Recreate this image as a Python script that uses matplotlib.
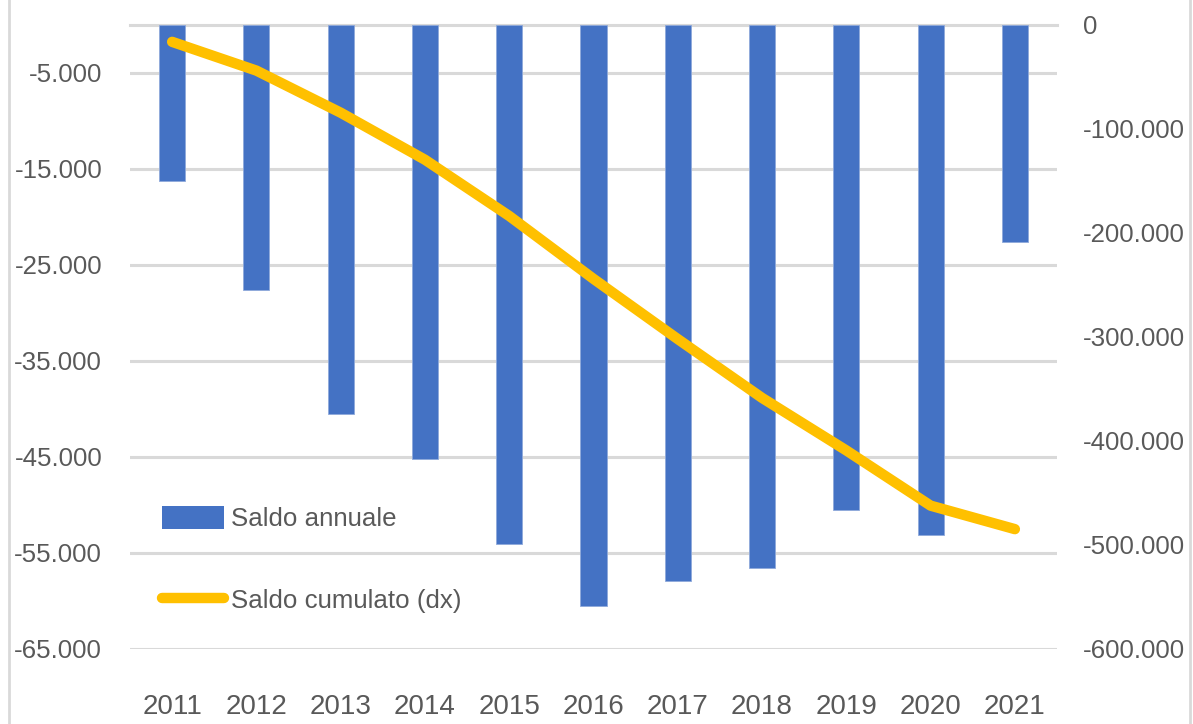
import matplotlib
matplotlib.use("Agg")
import matplotlib.pyplot as plt
from matplotlib.ticker import FuncFormatter, FixedLocator
from matplotlib.lines import Line2D
from matplotlib.patches import Patch

years = ["2011", "2012", "2013", "2014", "2015", "2016", "2017", "2018", "2019", "2020", "2021"]
saldo_annuale = [-16200, -27650, -40470, -45220, -54090, -60470, -57900, -56550, -50520, -53090, -22590]
saldo_cumulato = [-16200, -43850, -84320, -129540, -183630, -244100, -302000, -358550, -409070, -462160, -484750]
left_ticks = [-65000, -55000, -45000, -35000, -25000, -15000, -5000]
right_ticks = [-600000, -500000, -400000, -300000, -200000, -100000, 0]

plt.rcParams["font.family"] = ["Liberation Sans", "DejaVu Sans"]

TXT = "#595959"
GRID = "#D9D9D9"
FS = 18.6

def it_fmt(v, pos=None):
    s = f"{abs(int(round(v))):,}".replace(",", ".")
    return ("-" if v < 0 else "") + s

fig = plt.figure(figsize=(11.93, 7.24), dpi=100)
ax = fig.add_axes([130/1193, 1-649/724, 927/1193, 624/724])
ax2 = ax.twinx()

x = list(range(len(years)))
ax.bar(x, saldo_annuale, width=0.31, color="#4472C4", edgecolor="#8EA9DB", linewidth=0.6, zorder=3)
ax2.plot(x, saldo_cumulato, color="#FFC000", linewidth=7.5, solid_capstyle="round", solid_joinstyle="round", zorder=4)

ax.set_xlim(-0.5, len(years)-0.5)
ax.set_ylim(-65000, 0)
ax2.set_ylim(-600000, 0)
ax.yaxis.set_major_locator(FixedLocator(left_ticks))
ax2.yaxis.set_major_locator(FixedLocator(right_ticks))
ax.yaxis.set_major_formatter(FuncFormatter(it_fmt))
ax2.yaxis.set_major_formatter(FuncFormatter(it_fmt))

ax.grid(axis="y", color=GRID, linewidth=2.2, zorder=0)
ax.axhline(0, color=GRID, linewidth=2.2, zorder=1, clip_on=False)
ax.set_axisbelow(True)

for a in (ax, ax2):
    for s in a.spines.values():
        s.set_visible(False)

ax.set_xticks(x)
ax.set_xticklabels(years)
ax.tick_params(axis="x", length=0, pad=32.7, labelsize=20, labelcolor=TXT)
ax.tick_params(axis="y", length=0, pad=20, labelsize=FS, labelcolor=TXT)
ax2.tick_params(axis="y", length=0, pad=18.7, labelsize=FS, labelcolor=TXT)

handles = [Patch(facecolor="#4472C4", edgecolor="none"),
           Line2D([0], [0], color="#FFC000", linewidth=7.5, solid_capstyle="round")]
leg = ax.legend(handles, ["Saldo annuale", "Saldo cumulato (dx)"], loc="upper left",
                bbox_to_anchor=((162-130)/927, (649-506)/624), frameon=False,
                fontsize=FS, handlelength=2.4, handleheight=0.97, handletextpad=0.27,
                labelspacing=2.2, borderpad=0, borderaxespad=0)
for t in leg.get_texts():
    t.set_color(TXT)

fig.add_artist(Line2D([9/1193, 9/1193], [0, 1], color=GRID, linewidth=2, transform=fig.transFigure))
fig.add_artist(Line2D([1190/1193, 1190/1193], [0, 1], color=GRID, linewidth=2, transform=fig.transFigure))

fig.savefig("out.png", dpi=100)
